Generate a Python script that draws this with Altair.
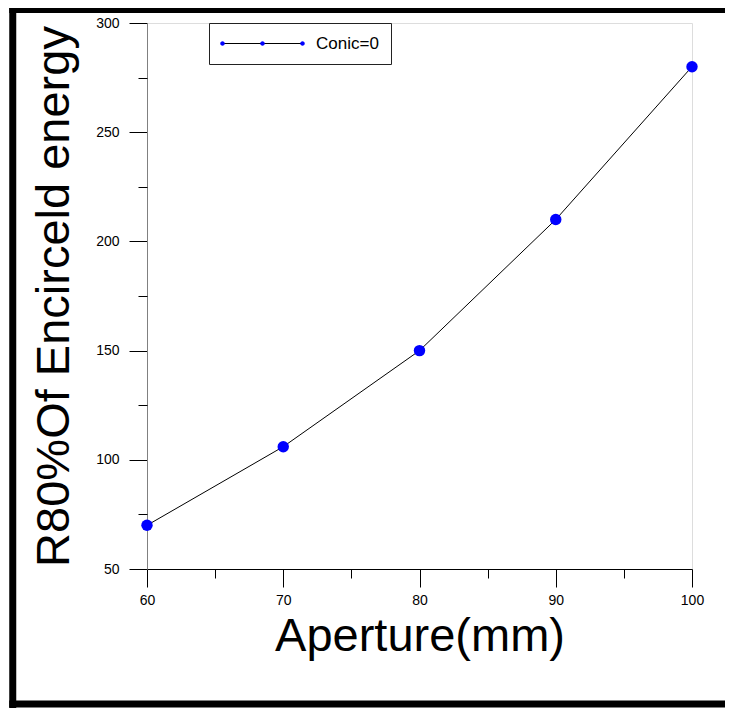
import altair as alt
import pandas as pd

# ---- data ----
aperture = [60, 70, 80, 90, 100]
r80 = [70, 106, 150, 210, 280]
series_name = "Conic=0"
x_major = [60, 70, 80, 90, 100]
x_minor = [65, 75, 85, 95]
y_major = [50, 100, 150, 200, 250, 300]
y_minor = [75, 125, 175, 225, 275]
x_title = "Aperture(mm)"
y_title = "R80%Of Encirceld energy"

df = pd.DataFrame({
    "aperture": aperture,
    "r80": r80,
    "series": [series_name] * len(aperture),
    "series_pts": [series_name] * len(aperture),
})

FONT = "Liberation Sans"
W, H = 545, 546
PAD = {"left": 139, "top": 15, "right": 33, "bottom": 139}

x_scale = alt.Scale(domain=[60, 100], nice=False, zero=False)
y_scale = alt.Scale(domain=[50, 300], nice=False, zero=False)

x_major_axis = alt.Axis(
    orient="bottom",
    values=x_major,
    format="d",
    tickSize=18,
    tickColor="black",
    domainColor="black",
    labelPadding=6,
    labelFlush=False,
    labelFontSize=14,
    labelFont=FONT,
    labelColor="black",
    title=x_title,
    titleFont=FONT,
    titleFontSize=47,
    titleFontWeight="normal",
    titleColor="black",
    titlePadding=6,
    grid=False,
)
y_major_axis = alt.Axis(
    orient="left",
    values=y_major,
    format="d",
    tickSize=18,
    tickColor="black",
    domainColor="#808080",
    labelPadding=10,
    labelFlush=False,
    labelFontSize=14,
    labelFont=FONT,
    labelColor="black",
    title=y_title,
    titleFont=FONT,
    titleFontSize=47,
    titleFontWeight="normal",
    titleColor="black",
    titlePadding=17,
    grid=False,
)
x_minor_axis = alt.Axis(
    orient="bottom", values=x_minor, tickSize=9, tickColor="black",
    labels=False, domain=False, grid=False, title=None,
)
y_minor_axis = alt.Axis(
    orient="left", values=y_minor, tickSize=9, tickColor="black",
    labels=False, domain=False, grid=False, title=None,
)

legend_common = dict(
    orient="none",
    legendX=62,
    legendY=0,
    padding=12,
    symbolSize=100,
    symbolOffset=33,
    labelOffset=45,
    labelFont=FONT,
    labelFontSize=17,
    title=None,
)

r = 0.45
def dot(cx):
    return f"M{cx - r},0a{r},{r} 0 1,0 {2 * r},0a{r},{r} 0 1,0 {-2 * r},0Z"

dots_path = " ".join(dot(c) for c in (-8, 0, 8))

line = alt.Chart(df).mark_line(strokeWidth=1).encode(
    x=alt.X("aperture:Q", scale=x_scale, axis=None),
    y=alt.Y("r80:Q", scale=y_scale, axis=None),
    stroke=alt.Stroke(
        "series:N",
        scale=alt.Scale(range=["black"]),
        legend=alt.Legend(
            symbolType="M-8,0L8,0",
            symbolFillColor="transparent",
            symbolStrokeWidth=1,
            strokeColor="#222222",
            labelColor="black",
            **legend_common,
        ),
    ),
)

points = alt.Chart(df).mark_circle(size=130, opacity=1).encode(
    x=alt.X("aperture:Q", scale=x_scale, axis=x_major_axis),
    y=alt.Y("r80:Q", scale=y_scale, axis=y_major_axis),
    fill=alt.Fill(
        "series_pts:N",
        scale=alt.Scale(range=["#0000ff"]),
        legend=alt.Legend(
            symbolType=dots_path,
            symbolStrokeWidth=0,
            symbolOpacity=1,
            labelOpacity=0,
            **legend_common,
        ),
    ),
)

minor = alt.Chart(df).mark_point(opacity=0).encode(
    x=alt.X("aperture:Q", scale=x_scale, axis=x_minor_axis),
    y=alt.Y("r80:Q", scale=y_scale, axis=y_minor_axis),
)

# outer frame (left, top, bottom edges; the right edge lies off the picture)
one = alt.Data(values=[{}])
frame_left = alt.Chart(one).mark_rule(stroke="black", strokeWidth=7).encode(
    x=alt.value(-134.25), y=alt.value(-15), y2=alt.value(H + PAD["bottom"])
)
frame_top = alt.Chart(one).mark_rule(stroke="black", strokeWidth=7).encode(
    y=alt.value(-13.5), x=alt.value(-137.75), x2=alt.value(W + PAD["right"] + 5)
)
frame_bottom = alt.Chart(one).mark_rule(stroke="black", strokeWidth=7).encode(
    y=alt.value(H + PAD["bottom"] - 4), x=alt.value(-137.75), x2=alt.value(W + PAD["right"] + 5)
)

chart = alt.layer(frame_left, frame_top, frame_bottom, line, points, minor).resolve_axis(
    x="independent", y="independent"
).properties(
    width=W,
    height=H,
    autosize=alt.AutoSizeParams(type="none"),
    padding=PAD,
).configure_view(strokeWidth=0).configure(background="white")

chart.save("out.html", embed_options={"renderer": "svg", "actions": False})
